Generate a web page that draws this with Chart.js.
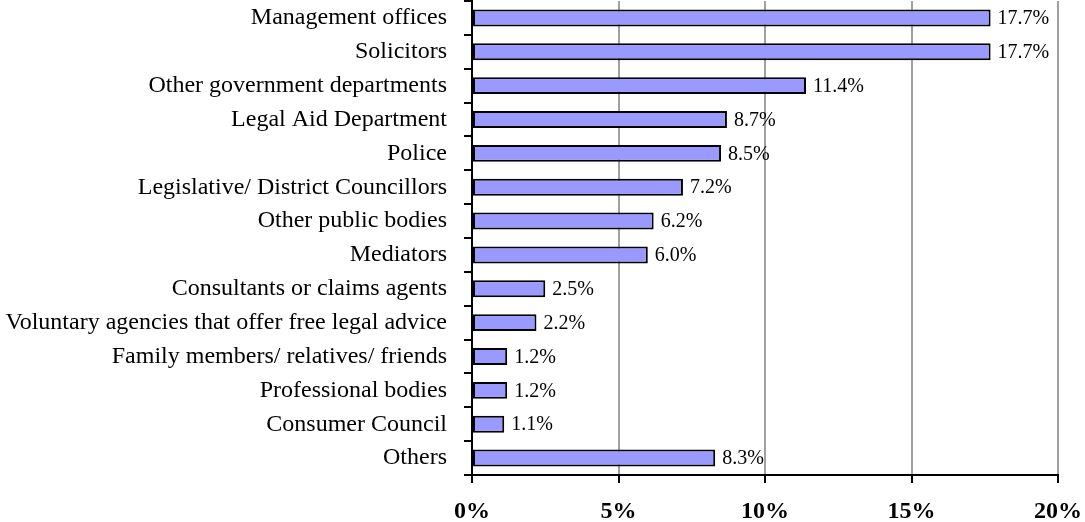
<!DOCTYPE html>
<html><head><meta charset="utf-8">
<script src="https://cdn.jsdelivr.net/npm/chart.js@4"></script>
<style>html,body{margin:0;padding:0;background:#fff}#wrap{width:1085px;height:522px}</style>
</head><body><div id="wrap"><canvas id="c" width="1085" height="522"></canvas></div>
<script>
const categories = ["Management offices","Solicitors","Other government departments","Legal Aid Department","Police","Legislative/ District Councillors","Other public bodies","Mediators","Consultants or claims agents","Voluntary agencies that offer free legal advice","Family members/ relatives/ friends","Professional bodies","Consumer Council","Others"];
const values = [17.7,17.7,11.4,8.7,8.5,7.2,6.2,6.0,2.5,2.2,1.2,1.2,1.1,8.3];
const xTicks = [0,5,10,15,20];

const labelPlugin = {
  id:'vals',
  afterDatasetsDraw(chart){
    const ctx = chart.ctx;
    const meta = chart.getDatasetMeta(0);
    ctx.save();
    ctx.font = '20px "Liberation Serif", serif';
    ctx.fillStyle = '#000';
    ctx.textBaseline = 'middle';
    ctx.textAlign = 'left';
    meta.data.forEach((bar,i)=>{
      ctx.fillText(values[i].toFixed(1)+'%', bar.x + 7, bar.y + 1);
    });
    ctx.restore();
  }
};

new Chart(document.getElementById('c'), {
  type:'bar',
  data:{labels:categories,datasets:[{data:values,backgroundColor:'#9999FF',borderColor:'#000',borderWidth:2,borderSkipped:false,categoryPercentage:1,barPercentage:0.5}]},
  options:{
    indexAxis:'y',responsive:false,animation:false,
    layout:{padding:{top:1,right:27,left:0,bottom:0}},
    plugins:{legend:{display:false},tooltip:{enabled:false}},
    scales:{
      x:{min:0,max:20,
        afterBuildTicks(s){s.ticks = xTicks.map(v=>({value:v}));},
        afterFit(s){s.height = 47; s.paddingLeft = 0; s.paddingRight = 0;},
        ticks:{callback:v=>v+'%',color:'#000',padding:14,font:{family:'"Liberation Serif", serif',size:24,weight:'bold'},maxRotation:0},
        grid:{color:c=>c.tick && c.tick.value===0?'rgba(0,0,0,0)':'#a0a0a0',lineWidth:2,tickColor:'#000',tickLength:8},
        border:{color:'#000',width:2}
      },
      y:{
        afterFit(s){s.width = 472; s.paddingTop = 0; s.paddingBottom = 0;},
        ticks:{color:'#000',padding:17,font:{family:'"Liberation Serif", serif',size:24}},
        grid:{drawOnChartArea:false,tickColor:'#000',tickLength:8,lineWidth:2,offset:true},
        border:{color:'#000',width:2}
      }
    }
  },
  plugins:[labelPlugin]
});
</script></body></html>
